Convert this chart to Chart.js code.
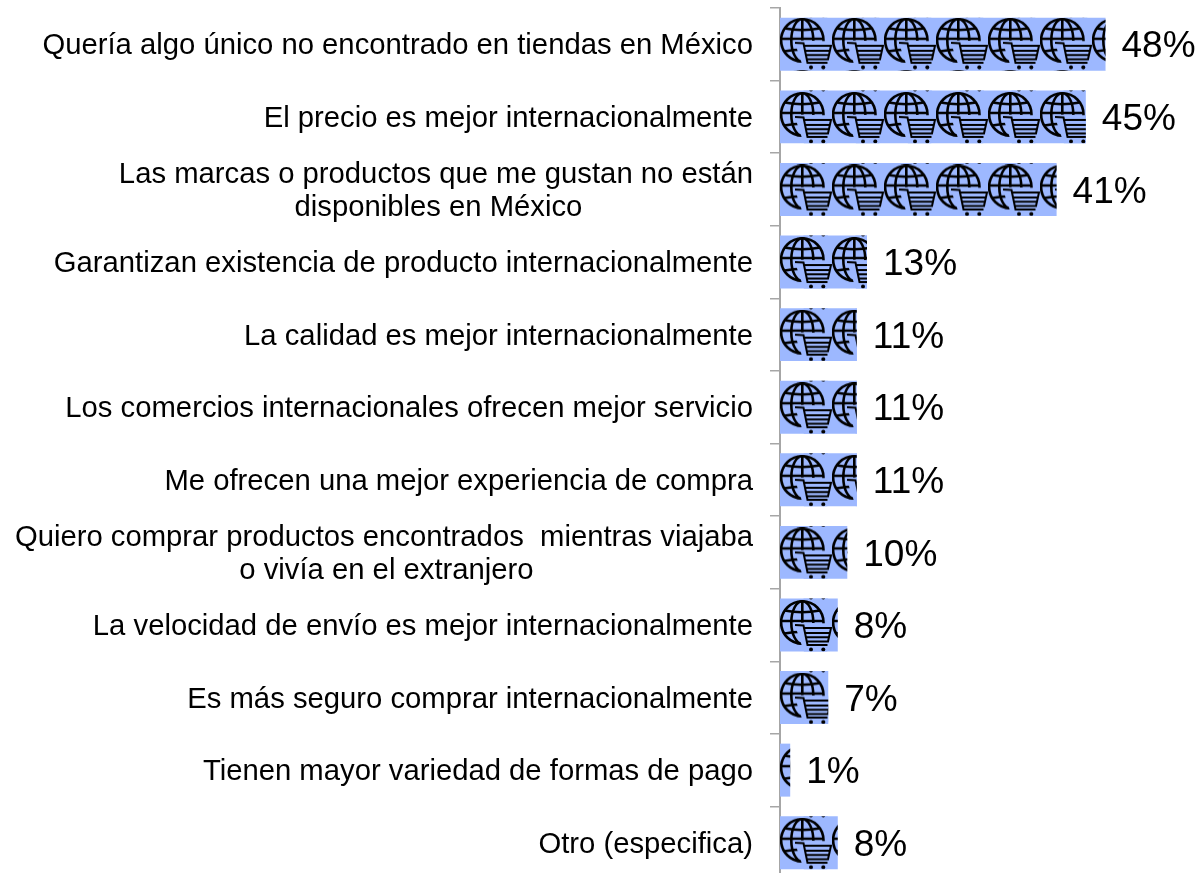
<!DOCTYPE html>
<html>
<head>
<meta charset="utf-8">
<style>
  html, body { margin: 0; padding: 0; background: #fff; overflow: hidden; }
  #crop { width: 1200px; height: 873px; overflow: hidden; }
  #wrap { position: relative; width: 1200px; height: 879px; }
</style>
<script src="https://cdn.jsdelivr.net/npm/chart.js@4"></script>
</head>
<body>
<!-- the reference crops the last tick, so the chart runs a few px past the bottom edge -->
<div id="crop"><div id="wrap"><canvas id="chart"></canvas></div></div>
<script>
const categories = [
    'Quería algo único no encontrado en tiendas en México',
    'El precio es mejor internacionalmente',
    ['Las marcas o productos que me gustan no están', 'disponibles en México'],
    'Garantizan existencia de producto internacionalmente',
    'La calidad es mejor internacionalmente',
    'Los comercios internacionales ofrecen mejor servicio',
    'Me ofrecen una mejor experiencia de compra',
    ['Quiero comprar productos encontrados  mientras viajaba', 'o vivía en el extranjero'],
    'La velocidad de envío es mejor internacionalmente',
    'Es más seguro comprar internacionalmente',
    'Tienen mayor variedad de formas de pago',
    'Otro (especifica)'
];
const values = [47.9, 45, 40.7, 12.8, 11.3, 11.3, 11.3, 9.9, 8.5, 7.1, 1.5, 8.5];
const valueLabels = ['48%', '45%', '41%', '13%', '11%', '11%', '11%', '10%', '8%', '7%', '1%', '8%'];

const barColor = '#9DB8FF';
const labelFont = '29.25px "Liberation Sans"';
const TILE = 52;

// one globe + cart tile, drawn once and repeated inside the bars
function makeTile() {
    const c = document.createElement('canvas');
    c.width = TILE;
    c.height = TILE;
    const g = c.getContext('2d');
    g.strokeStyle = '#000';
    g.lineWidth = 2.6;
    g.beginPath(); g.arc(22.3, 22.5, 21.2, 0, Math.PI * 2); g.stroke();
    g.beginPath(); g.ellipse(22.3, 22.5, 11, 21.2, 0, 0, Math.PI * 2); g.stroke();
    g.beginPath();
    g.moveTo(22.3, 1.5); g.lineTo(22.3, 43.5);
    g.moveTo(1, 21); g.lineTo(43.5, 21);
    g.moveTo(4.5, 10.5); g.quadraticCurveTo(22, 14, 40, 10.5);
    g.moveTo(4.5, 33.5); g.quadraticCurveTo(22, 30, 40, 33.5);
    g.stroke();

    // clear the globe behind the cart
    g.fillStyle = barColor;
    g.beginPath();
    g.moveTo(14, 22.5); g.lineTo(52, 23.5); g.lineTo(52, 44); g.lineTo(47, 52); g.lineTo(24, 52);
    g.closePath();
    g.fill();

    g.lineWidth = 2;
    g.beginPath();
    g.moveTo(15, 25); g.lineTo(23.5, 25.5); g.lineTo(27.5, 45); g.lineTo(47.5, 45);
    g.moveTo(24.5, 28); g.lineTo(51, 28); g.lineTo(48, 41.5); g.lineTo(27, 41.5);
    g.moveTo(25.5, 33); g.lineTo(50, 33);
    g.moveTo(26.3, 37.3); g.lineTo(49, 37.3);
    g.stroke();
    g.fillStyle = '#000';
    g.beginPath(); g.arc(31, 49.5, 2, 0, Math.PI * 2); g.fill();
    g.beginPath(); g.arc(43.3, 49.5, 2, 0, Math.PI * 2); g.fill();
    return c;
}

const tile = makeTile();

// ticks are right aligned, so shorter lines get trailing spaces to sit centred under the longest one
const measure = document.createElement('canvas').getContext('2d');
measure.font = labelFont;
function centerLines(label) {
    if (!Array.isArray(label)) return label;
    const widest = Math.max(...label.map(l => measure.measureText(l).width));
    const space = measure.measureText(' ').width;
    return label.map(l => l + ' '.repeat(Math.round((widest - measure.measureText(l).width) / 2 / space)));
}

const iconBars = {
    id: 'iconBars',
    afterDatasetsDraw(chart) {
        const ctx = chart.ctx;
        chart.getDatasetMeta(0).data.forEach((bar, i) => {
            const top = bar.y - bar.height / 2;
            const left = bar.base;
            const startY = i === 0 ? top : top + 1.5;
            ctx.save();
            ctx.beginPath();
            ctx.rect(left, top, bar.x - left, bar.height);
            ctx.clip();
            for (let x = left; x < bar.x; x += TILE) {
                for (let y = startY - TILE; y < top + bar.height; y += TILE) {
                    ctx.drawImage(tile, x, y);
                }
            }
            ctx.restore();

            ctx.fillStyle = '#000';
            ctx.font = '37px "Liberation Sans"';
            ctx.textAlign = 'left';
            ctx.textBaseline = 'middle';
            ctx.fillText(valueLabels[i], bar.x + 16, bar.y + 3);
        });
    }
};

new Chart(document.getElementById('chart'), {
    type: 'bar',
    data: {
        labels: categories,
        datasets: [{
            data: values,
            backgroundColor: barColor,
            borderWidth: 0,
            barPercentage: 0.73,
            categoryPercentage: 1
        }]
    },
    options: {
        indexAxis: 'y',
        responsive: true,
        maintainAspectRatio: false,
        animation: false,
        layout: { padding: { top: 8, bottom: 0, left: 0, right: 0 } },
        plugins: {
            legend: { display: false },
            title: { display: false },
            tooltip: { enabled: false }
        },
        scales: {
            x: { display: false, min: 0, max: 61.8 },
            y: {
                afterFit(scale) {
                    scale.width = 780;
                    scale.paddingTop = 0;
                    scale.paddingBottom = 0;
                },
                border: { color: '#A6A6A6', width: 2 },
                grid: { drawOnChartArea: false, drawTicks: true, tickLength: 10, color: '#A6A6A6', lineWidth: 1.5 },
                ticks: {
                    color: '#000',
                    font: { family: '"Liberation Sans"', size: 29.25, lineHeight: 1.13 },
                    padding: 17,
                    labelOffset: 2,
                    autoSkip: false,
                    maxRotation: 0,
                    minRotation: 0,
                    callback(value, index) { return centerLines(categories[index]); }
                }
            }
        }
    },
    plugins: [iconBars]
});
</script>
</body>
</html>
